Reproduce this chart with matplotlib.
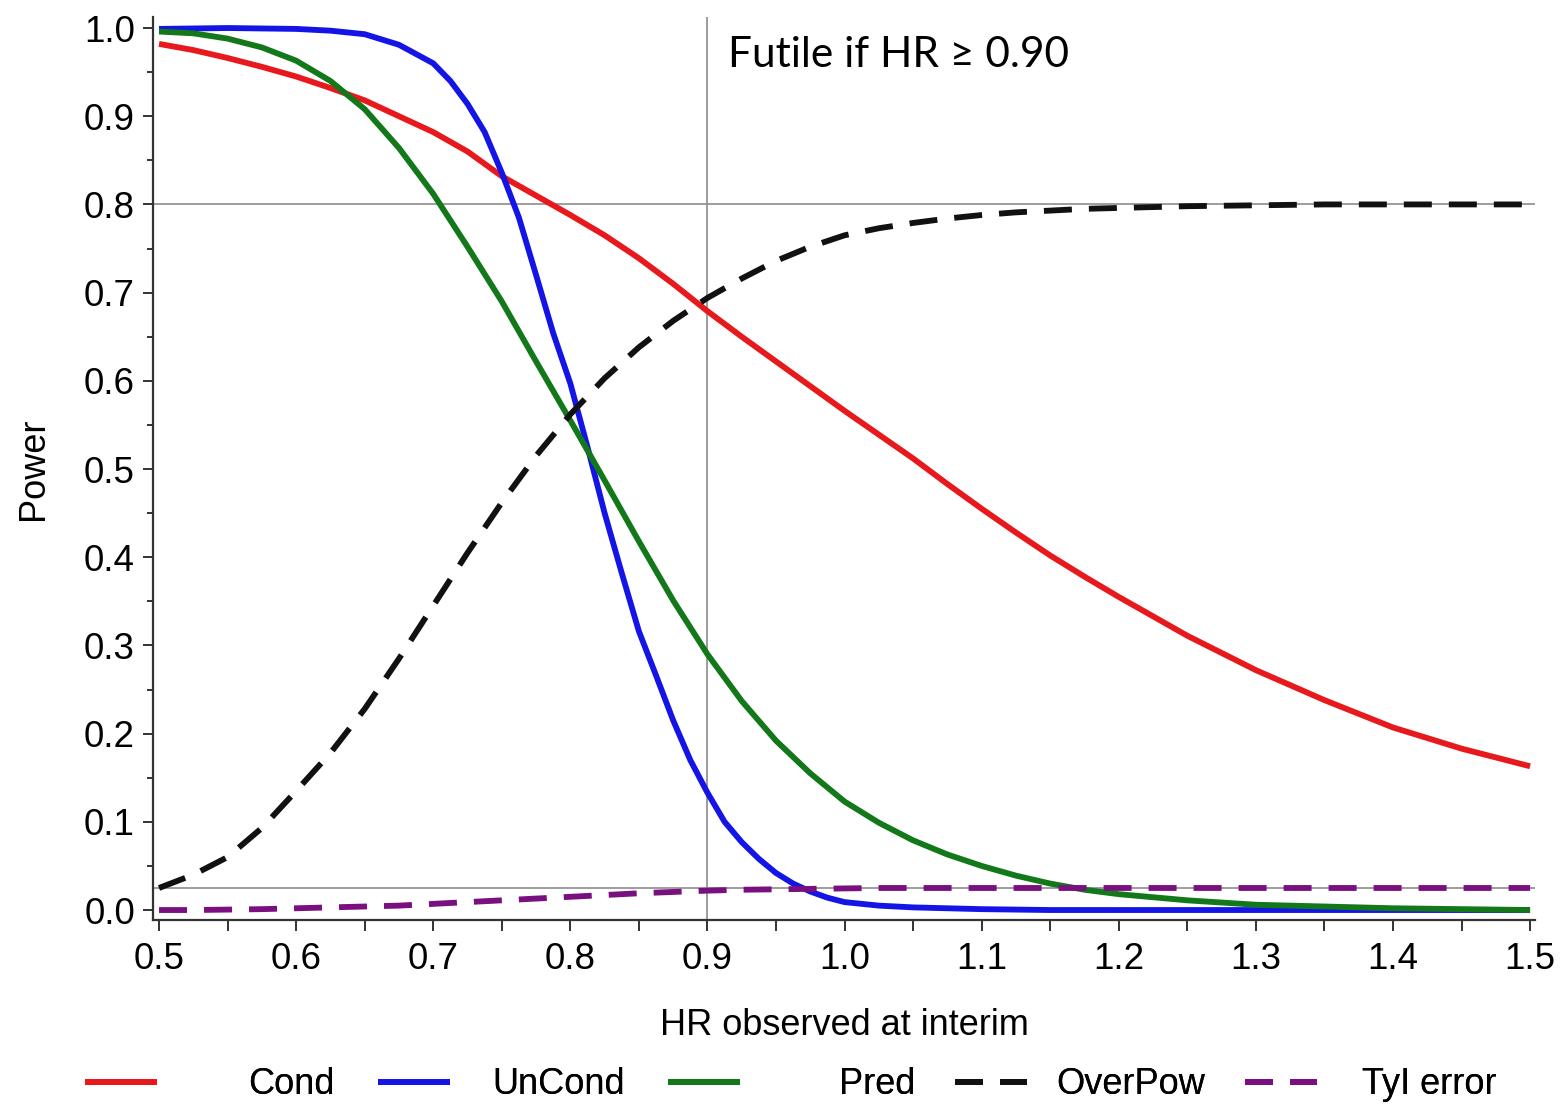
import matplotlib
matplotlib.use("Agg")
import matplotlib.pyplot as plt
from matplotlib.ticker import MultipleLocator

# ---------------- data ----------------
hr = [0.50, 0.525, 0.55, 0.575, 0.60, 0.625, 0.65, 0.675, 0.70, 0.725,
      0.75, 0.775, 0.80, 0.825, 0.85, 0.875, 0.90, 0.925, 0.95, 0.975,
      1.00, 1.025, 1.05, 1.075, 1.10, 1.125, 1.15, 1.175, 1.20,
      1.25, 1.30, 1.35, 1.40, 1.45, 1.50]

cond = [0.982, 0.975, 0.966, 0.956, 0.945, 0.932, 0.918, 0.900, 0.882, 0.860,
        0.832, 0.810, 0.788, 0.765, 0.739, 0.710, 0.679, 0.650, 0.622, 0.594,
        0.566, 0.539, 0.512, 0.483, 0.455, 0.428, 0.402, 0.378, 0.355,
        0.311, 0.272, 0.238, 0.207, 0.183, 0.163]

pred = [0.996, 0.994, 0.988, 0.978, 0.963, 0.940, 0.908, 0.864, 0.812, 0.752,
        0.690, 0.622, 0.555, 0.487, 0.418, 0.351, 0.290, 0.237, 0.192, 0.155,
        0.123, 0.099, 0.079, 0.063, 0.050, 0.039, 0.030, 0.023, 0.018,
        0.011, 0.006, 0.004, 0.002, 0.001, 0.000]

overpow = [0.025, 0.040, 0.060, 0.093, 0.135, 0.178, 0.228, 0.285, 0.345, 0.405,
           0.462, 0.515, 0.562, 0.603, 0.638, 0.668, 0.694, 0.716, 0.736, 0.752,
           0.765, 0.773, 0.779, 0.784, 0.788, 0.791, 0.793, 0.795, 0.796,
           0.798, 0.799, 0.800, 0.800, 0.800, 0.800]

tyi_error = [0.000, 0.000, 0.0005, 0.001, 0.002, 0.003, 0.004, 0.005, 0.007, 0.009,
             0.011, 0.013, 0.015, 0.017, 0.019, 0.0205, 0.022, 0.023, 0.0235, 0.024,
             0.0245, 0.025, 0.025, 0.025, 0.025, 0.025, 0.025, 0.025, 0.025,
             0.025, 0.025, 0.025, 0.025, 0.025, 0.025]

# UnCond is read on a finer HR grid where it falls steeply
hr_uncond = [0.50, 0.55, 0.60, 0.625, 0.65, 0.675, 0.70, 0.7125, 0.725, 0.7375,
             0.75, 0.7625, 0.775, 0.7875, 0.80, 0.8125, 0.825, 0.8375, 0.85, 0.8625,
             0.875, 0.8875, 0.90, 0.9125, 0.925, 0.9375, 0.95, 0.9625, 0.975, 0.9875,
             1.00, 1.025, 1.05, 1.075, 1.10, 1.125, 1.15, 1.20, 1.30, 1.40, 1.50]
uncond = [0.999, 1.000, 0.999, 0.997, 0.993, 0.981, 0.960, 0.940, 0.914, 0.882,
          0.836, 0.785, 0.720, 0.654, 0.597, 0.525, 0.450, 0.382, 0.316, 0.266,
          0.215, 0.170, 0.133, 0.100, 0.077, 0.058, 0.042, 0.030, 0.021, 0.014,
          0.009, 0.005, 0.003, 0.002, 0.001, 0.0005, 0.000, 0.000, 0.000, 0.000, 0.000]

labels = ["Cond", "UnCond", "Pred", "OverPow", "TyI error"]
colors = ["#e8191c", "#1414e6", "#12781a", "#111111", "#7a0f80"]

futility_hr = 0.90
target_power = 0.80
alpha_level = 0.025
x_ticks = [0.5, 0.6, 0.7, 0.8, 0.9, 1.0, 1.1, 1.2, 1.3, 1.4, 1.5]
y_ticks = [0.0, 0.1, 0.2, 0.3, 0.4, 0.5, 0.6, 0.7, 0.8, 0.9, 1.0]

# ---------------- figure ----------------
W, H, DPI = 1562, 1106, 100
plt.rcParams['font.family'] = ['Liberation Sans', 'DejaVu Sans']
fig = plt.figure(figsize=(W / DPI, H / DPI), dpi=DPI)
ax = fig.add_axes([153 / W, 1 - 920 / H, (1535 - 153) / W, (920 - 17) / H])

lw = 4.2
lw_px = lw * DPI / 72
dash_pat = (28 / lw_px, 17 / lw_px)

# reference lines
ax.axvline(futility_hr, color='#8c8c8c', lw=1.2, zorder=1)
ax.axhline(target_power, color='#8c8c8c', lw=1.2, zorder=1)
ax.axhline(alpha_level, color='#8c8c8c', lw=1.2, zorder=1)

xs_list = [hr, hr_uncond, hr, hr, hr]
series = [cond, uncond, pred, overpow, tyi_error]
dashed = [False, False, False, True, True]

handles = []
for xs, ys, c, d, lab in zip(xs_list, series, colors, dashed, labels):
    ln, = ax.plot(xs, ys, color=c, lw=lw, label=lab, zorder=3,
                  solid_capstyle='butt', dash_capstyle='butt',
                  solid_joinstyle='round')
    if d:
        ln.set_dashes(dash_pat)
    handles.append(ln)

ax.set_xlim(0.4956, 1.5036)
ax.set_ylim(-0.0113, 1.0125)
ax.xaxis.set_minor_locator(MultipleLocator(0.05))
ax.yaxis.set_minor_locator(MultipleLocator(0.05))
ax.set_xticks(x_ticks)
ax.set_yticks(y_ticks)
ax.set_xticklabels([f"{v:.1f}" for v in x_ticks])
ax.set_yticklabels([f"{v:.1f}" for v in y_ticks])

for s in ['top', 'right']:
    ax.spines[s].set_visible(False)
for s in ['left', 'bottom']:
    ax.spines[s].set_linewidth(1.6)
    ax.spines[s].set_color('#333333')

ax.tick_params(axis='both', which='major', labelsize=26.5, width=1.4,
               color='#333333', direction='out')
ax.tick_params(axis='x', which='major', length=8, pad=8)
ax.tick_params(axis='x', which='minor', length=8, width=1.4, color='#333333')
ax.tick_params(axis='y', which='major', length=7, pad=6)
ax.tick_params(axis='y', which='minor', length=4, width=1.4, color='#333333')

ax.set_xlabel("HR observed at interim", fontsize=26, labelpad=22)
ax.set_ylabel("Power", fontsize=26, labelpad=24)

ax.text(0.915, 0.969, "Futile if HR \u2265 0.90", fontsize=30.5,
        family=['Lato', 'DejaVu Sans'], ha='left', va='center', zorder=4)

# ---------------- legend: handle then right-aligned label in each cell ----------------
leg_fs = 26
fs_px = leg_fs * DPI / 72
handle_px = 72
cell_start = [85, 378, 668, 955, 1245]
label_right = [335, 625, 915, 1205, 1497]
leg_y = 1 - 1085 / H

renderer = fig.canvas.get_renderer()
for h, lab, x0, xr in zip(handles, labels, cell_start, label_right):
    t = fig.text(0, 0, lab, fontsize=leg_fs)
    wpx = t.get_window_extent(renderer).width
    t.remove()
    pad = (xr - wpx - (x0 + handle_px)) / fs_px
    leg = fig.legend([h], [lab], loc='center left', bbox_to_anchor=(x0 / W, leg_y),
                     frameon=False, fontsize=leg_fs, handlelength=handle_px / fs_px,
                     handletextpad=pad, borderpad=0, borderaxespad=0)
    fig.add_artist(leg)

fig.savefig("out.png", dpi=DPI)
